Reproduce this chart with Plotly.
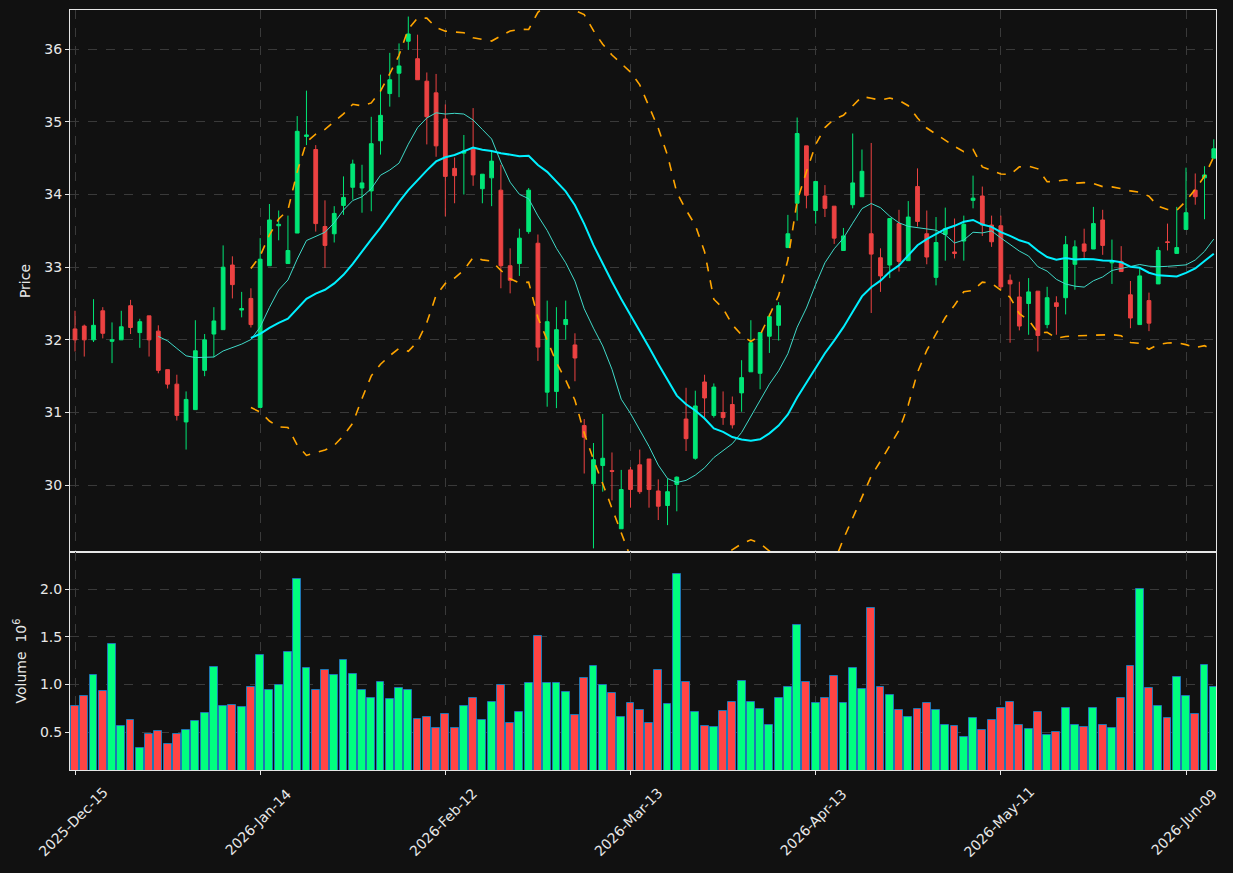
import pandas as pd
import numpy as np
import plotly.graph_objects as go

# ---------------- data ----------------
opens = [32.15, 32.19, 32.00, 32.40, 31.98, 32.00, 32.47, 32.10, 32.33, 32.12,
         31.59, 31.39, 30.87, 31.04, 31.58, 32.08, 32.14, 33.03, 32.41, 32.57,
         31.07, 33.02, 33.57, 33.05, 33.47, 34.80, 34.62, 33.56, 33.46, 33.85,
         34.10, 34.09, 34.05, 34.74, 35.39, 35.67, 36.11, 35.87, 35.56, 35.40,
         35.04, 34.36, 34.57, 34.63, 34.08, 34.23, 34.06, 33.02, 33.05, 33.49,
         33.33, 31.28, 31.29, 32.21, 31.93, 30.82, 30.02, 30.27, 30.20, 29.40,
         30.21, 30.28, 30.36, 29.92, 29.72, 30.01, 30.91, 30.37, 31.42, 30.96,
         31.00, 31.11, 31.27, 31.56, 31.54, 32.05, 32.20, 33.27, 33.88, 34.67,
         33.78, 33.98, 33.84, 33.23, 33.86, 33.97, 33.46, 33.13, 33.03, 33.60,
         33.09, 34.11, 33.46, 32.86, 33.45, 33.21, 33.36, 33.92, 33.98, 33.58,
         33.57, 32.82, 32.59, 32.50, 32.67, 32.21, 32.51, 32.58, 33.04, 33.32,
         33.25, 33.65, 33.06, 33.08, 32.62, 32.21, 32.54, 32.77, 33.35, 33.19,
         33.52, 34.06, 34.23, 34.50]
highs = [32.40, 32.21, 32.56, 32.45, 32.24, 32.40, 32.55, 32.29, 32.33, 32.20,
         31.59, 31.52, 31.29, 32.27, 32.08, 32.45, 33.30, 33.15, 32.66, 32.71,
         33.40, 33.87, 33.78, 33.71, 35.08, 35.43, 34.68, 33.92, 33.84, 34.25,
         34.48, 34.41, 35.07, 35.65, 35.95, 36.08, 36.45, 36.20, 35.68, 35.66,
         35.24, 34.51, 34.82, 35.19, 34.28, 34.59, 34.41, 33.26, 33.53, 34.09,
         33.45, 32.54, 32.45, 32.54, 32.09, 30.91, 30.58, 30.98, 30.45, 30.21,
         30.25, 30.49, 30.36, 30.08, 30.09, 30.12, 31.34, 31.30, 31.52, 31.40,
         31.29, 31.22, 31.72, 32.27, 32.10, 32.36, 32.52, 33.72, 35.06, 34.67,
         34.18, 34.13, 33.84, 33.54, 34.84, 34.62, 34.71, 33.26, 33.67, 33.79,
         33.91, 34.36, 33.78, 33.69, 33.82, 33.67, 33.71, 34.26, 34.11, 33.71,
         33.71, 32.90, 32.80, 32.85, 32.67, 32.73, 32.60, 33.43, 33.37, 33.53,
         33.83, 33.79, 33.38, 33.29, 32.81, 32.98, 32.65, 33.28, 33.60, 33.83,
         34.37, 34.29, 34.39, 34.76]
lows = [31.84, 31.77, 31.97, 32.02, 31.68, 32.00, 32.08, 31.89, 31.77, 31.54,
        31.33, 30.89, 30.49, 31.04, 31.50, 31.76, 32.14, 32.57, 32.31, 32.17,
        31.07, 33.02, 33.37, 33.05, 33.47, 34.68, 33.49, 32.99, 33.34, 33.72,
        33.93, 33.75, 33.77, 34.55, 35.21, 35.34, 35.99, 35.58, 34.69, 34.52,
        33.70, 33.88, 34.00, 34.12, 33.88, 33.84, 32.71, 32.64, 32.88, 33.46,
        31.71, 31.08, 31.06, 32.00, 31.43, 30.16, 29.13, 29.91, 29.79, 29.40,
        29.69, 29.88, 29.69, 29.52, 29.45, 29.64, 30.47, 30.35, 30.93, 30.93,
        30.83, 30.78, 31.01, 31.56, 31.32, 31.82, 31.99, 33.27, 33.64, 33.81,
        33.60, 33.69, 33.32, 33.23, 33.81, 33.97, 32.37, 32.66, 32.85, 32.94,
        33.09, 33.56, 33.04, 32.75, 33.09, 33.12, 33.09, 33.81, 33.43, 33.28,
        32.70, 31.96, 32.13, 32.07, 31.84, 32.16, 32.07, 32.35, 32.69, 33.13,
        33.25, 33.17, 32.77, 32.94, 32.16, 32.21, 32.12, 32.77, 33.23, 33.19,
        33.52, 33.86, 33.66, 34.50]
closes = [32.00, 32.00, 32.20, 32.09, 32.00, 32.18, 32.17, 32.25, 32.00, 31.58,
          31.39, 30.96, 31.18, 31.85, 32.00, 32.26, 33.00, 32.76, 32.43, 32.21,
          33.11, 33.65, 33.59, 33.23, 34.87, 34.82, 33.60, 33.30, 33.74, 33.96,
          34.42, 34.16, 34.70, 35.09, 35.58, 35.77, 36.21, 35.58, 35.07, 34.67,
          34.25, 34.26, 34.60, 34.27, 34.28, 34.46, 33.02, 32.82, 33.40, 34.06,
          31.90, 32.25, 32.14, 32.28, 31.75, 30.66, 30.35, 30.37, 30.19, 29.94,
          29.94, 29.91, 29.94, 29.71, 29.91, 30.11, 30.64, 31.09, 31.20, 31.35,
          30.93, 30.83, 31.48, 31.96, 32.10, 32.32, 32.47, 33.46, 34.84, 33.99,
          34.18, 33.81, 33.40, 33.43, 34.16, 34.32, 33.18, 32.88, 33.67, 33.08,
          33.69, 33.63, 33.14, 33.34, 33.53, 33.19, 33.59, 33.95, 33.58, 33.35,
          32.73, 32.77, 32.19, 32.66, 32.06, 32.58, 32.46, 33.31, 33.28, 33.22,
          33.60, 33.30, 33.08, 32.94, 32.30, 32.88, 32.23, 33.23, 33.34, 33.27,
          33.75, 33.97, 34.27, 34.63]
volume_millions = [0.780, 0.877, 1.097, 0.929, 1.424, 0.563, 0.626, 0.333, 0.483, 0.511,
                   0.378, 0.483, 0.521, 0.615, 0.699, 1.180, 0.772, 0.783, 0.762, 0.971,
                   1.306, 0.940, 1.000, 1.337, 2.110, 1.170, 0.943, 1.149, 1.097, 1.254,
                   1.107, 0.943, 0.856, 1.027, 0.849, 0.964, 0.943, 0.640, 0.661, 0.545,
                   0.692, 0.545, 0.772, 0.859, 0.626, 0.814, 1.000, 0.594, 0.709, 1.013,
                   1.505, 1.013, 1.013, 0.919, 0.678, 1.065, 1.190, 0.992, 0.908, 0.657,
                   0.804, 0.730, 0.594, 1.149, 0.800, 2.164, 1.023, 0.716, 0.563, 0.553,
                   0.720, 0.814, 1.034, 0.814, 0.741, 0.573, 0.856, 0.971, 1.620, 1.023,
                   0.804, 0.856, 1.086, 0.804, 1.170, 0.950, 1.808, 0.971, 0.887, 0.730,
                   0.657, 0.741, 0.804, 0.730, 0.573, 0.563, 0.448, 0.647, 0.521, 0.626,
                   0.751, 0.814, 0.573, 0.532, 0.709, 0.469, 0.500, 0.751, 0.573, 0.553,
                   0.751, 0.573, 0.542, 0.856, 1.190, 1.997, 0.960, 0.772, 0.647, 1.076,
                   0.877, 0.689, 1.200, 0.971]

exchange_holidays = ['2025-12-25', '2026-01-01', '2026-01-19', '2026-02-16',
                     '2026-04-03', '2026-05-25', '2026-06-19']
start_date = '2025-12-15'
tick_every = 20

# ---------------- derived ----------------
dates = pd.bdate_range(start_date, periods=len(closes), freq='C', holidays=exchange_holidays)
idx = np.arange(len(closes))
close_s = pd.Series(closes)
ma10 = close_s.rolling(10).mean()
ma20 = close_s.rolling(20).mean()
sd20 = close_s.rolling(20).std()
bb_up = ma20 + 2 * sd20
bb_lo = ma20 - 2 * sd20

UP_C, DN_C = '#00e676', '#ec4242'
VUP_C, VDN_C = '#00ff7f', '#ff4444'
is_up = [c >= o for o, c in zip(opens, closes)]
vol_colors = [VUP_C if u else VDN_C for u in is_up]

tick_vals = [int(v) for v in idx[::tick_every]]
tick_text = [dates[i].strftime('%Y-%b-%d') for i in tick_vals]

fig = go.Figure()
fig.add_trace(go.Candlestick(
    x=idx, open=opens, high=highs, low=lows, close=closes,
    increasing=dict(line=dict(color=UP_C, width=1), fillcolor=UP_C),
    decreasing=dict(line=dict(color=DN_C, width=1), fillcolor=DN_C),
    whiskerwidth=0, xaxis='x', yaxis='y', showlegend=False,
    text=[d.strftime('%Y-%m-%d') for d in dates]))
fig.add_trace(go.Scatter(x=idx, y=ma10, mode='lines', line=dict(color='#3fd9c8', width=1),
                         xaxis='x', yaxis='y', showlegend=False))
fig.add_trace(go.Scatter(x=idx, y=ma20, mode='lines', line=dict(color='#00f0ff', width=2),
                         xaxis='x', yaxis='y', showlegend=False))
fig.add_trace(go.Scatter(x=idx, y=bb_up, mode='lines', line=dict(color='#ffa500', width=1.6, dash='dash'),
                         xaxis='x', yaxis='y', showlegend=False))
fig.add_trace(go.Scatter(x=idx, y=bb_lo, mode='lines', line=dict(color='#ffa500', width=1.6, dash='dash'),
                         xaxis='x', yaxis='y', showlegend=False))
fig.add_trace(go.Bar(x=idx, y=volume_millions, marker=dict(color=vol_colors, line=dict(color='#1f77b4', width=1)),
                     width=0.85, xaxis='x2', yaxis='y2', showlegend=False))

split = 218 / 760
grid = dict(showgrid=True, gridcolor='#3a3a3a', griddash='dash', gridwidth=1)
frame = dict(showline=True, mirror=True, linecolor='#e6e6e6', linewidth=1, zeroline=False)
xr = [-0.54, 123.24]

# rotated date labels, centred under each tick (matplotlib style)
annotations = [dict(x=v, y=0, xref='x2', yref='paper', text=t, textangle=-45, showarrow=False,
                    xanchor='center', yanchor='middle', xshift=-2, yshift=-52,
                    font=dict(family='DejaVu Sans', size=14, color='#e8e8e8'))
               for v, t in zip(tick_vals, tick_text)]

fig.update_layout(
    width=1233, height=873,
    paper_bgcolor='#111111', plot_bgcolor='#111111',
    margin=dict(l=70, r=17, t=10, b=103),
    font=dict(family='DejaVu Sans', size=14, color='#e8e8e8'),
    boxgap=0.42,
    bargap=0,
    annotations=annotations,
    xaxis=dict(domain=[0, 1], anchor='y', range=xr, tickvals=tick_vals, showticklabels=False,
               rangeslider=dict(visible=False), ticks='', **grid, **frame),
    yaxis=dict(domain=[split, 1], anchor='x', range=[29.08, 36.54], tickvals=[30, 31, 32, 33, 34, 35, 36],
               ticks='outside', ticklen=4, tickcolor='#e6e6e6',
               title=dict(text='Price', standoff=10, font=dict(size=14)), **grid, **frame),
    xaxis2=dict(domain=[0, 1], anchor='y2', matches='x', range=xr, tickvals=tick_vals, showticklabels=False,
                ticks='outside', ticklen=4, tickcolor='#e6e6e6', **grid, **frame),
    yaxis2=dict(domain=[0, split], anchor='x2', range=[0.104, 2.39], tickvals=[0.5, 1.0, 1.5, 2.0],
                tickformat='.1f', ticks='outside', ticklen=4, tickcolor='#e6e6e6',
                title=dict(text='Volume  10<sup>6</sup>', standoff=10, font=dict(size=14)), **grid, **frame),
    hovermode='x',
)

fig.write_html('out.html')
